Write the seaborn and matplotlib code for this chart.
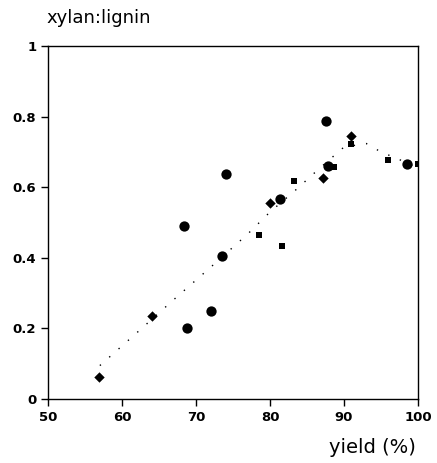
import matplotlib
matplotlib.use("Agg")
import matplotlib.pyplot as plt
import seaborn as sns
import pandas as pd

# Data
circle_x = [68.4, 73.5, 72.0, 68.8, 74.1, 81.4, 87.5, 87.9, 98.5]
circle_y = [0.489, 0.404, 0.249, 0.200, 0.638, 0.568, 0.787, 0.661, 0.665]
diamond_x = [56.9, 64.1, 80.0, 87.2, 90.9]
diamond_y = [0.063, 0.234, 0.556, 0.625, 0.746]
square_x = [78.5, 81.6, 83.3, 88.6, 90.9, 96.0, 100.0]
square_y = [0.466, 0.434, 0.618, 0.658, 0.723, 0.676, 0.665]

curve_x = [57, 62, 67, 72, 77, 80, 83.4, 86.6, 90, 93, 95, 97, 100]
curve_y = [0.095, 0.188, 0.282, 0.374, 0.468, 0.53, 0.591, 0.652, 0.714, 0.724, 0.70, 0.683, 0.655]

x_ticks = [50, 60, 70, 80, 90, 100]
y_ticks = [0, 0.2, 0.4, 0.6, 0.8, 1]
y_ticklabels = ["0", "0.2", "0.4", "0.6", "0.8", "1"]

sns.set_style("ticks")
plt.rcParams['font.family'] = ['DejaVu Sans']
plt.rcParams['text.color'] = 'black'

df = pd.DataFrame({
    "x": circle_x + diamond_x + square_x,
    "y": circle_y + diamond_y + square_y,
    "kind": ["circle"] * len(circle_x) + ["diamond"] * len(diamond_x) + ["square"] * len(square_x),
})
curve = pd.DataFrame({"x": curve_x, "y": curve_y})

fig = plt.figure(figsize=(4.37, 4.63), dpi=100)
ax = fig.add_axes([0.110, 0.138, 0.8465, 0.7625])

sns.lineplot(data=curve, x="x", y="y", ax=ax, color="black", linewidth=1.0,
             linestyle=(0, (1, 8)), sort=False)

sizes = {"circle": 55, "diamond": 28, "square": 22}
markers = {"circle": "o", "diamond": "D", "square": "s"}
for kind in ["circle", "diamond", "square"]:
    sub = df[df["kind"] == kind]
    sns.scatterplot(data=sub, x="x", y="y", ax=ax, color="black", marker=markers[kind],
                    s=sizes[kind], edgecolor="black", linewidth=0, legend=False)

ax.set_xlim(50, 100)
ax.set_ylim(0, 1)
ax.set_xticks(x_ticks)
ax.set_xticklabels([str(t) for t in x_ticks], fontsize=9.5, fontweight="bold", color="black")
ax.set_yticks(y_ticks)
ax.set_yticklabels(y_ticklabels, fontsize=9.5, fontweight="bold", color="black")
ax.tick_params(direction="out", length=5, width=1, colors="black")
for s in ax.spines.values():
    s.set_visible(True)
    s.set_linewidth(1.0)
    s.set_color("black")
ax.set_xlabel("")
ax.set_ylabel("")

fig.text(0.107, 0.962, "xylan:lignin", fontsize=13, ha="left", va="center", color="black")
fig.text(0.952, 0.034, "yield (%)", fontsize=14, ha="right", va="center", color="black")

fig.savefig("out.png", dpi=100)
